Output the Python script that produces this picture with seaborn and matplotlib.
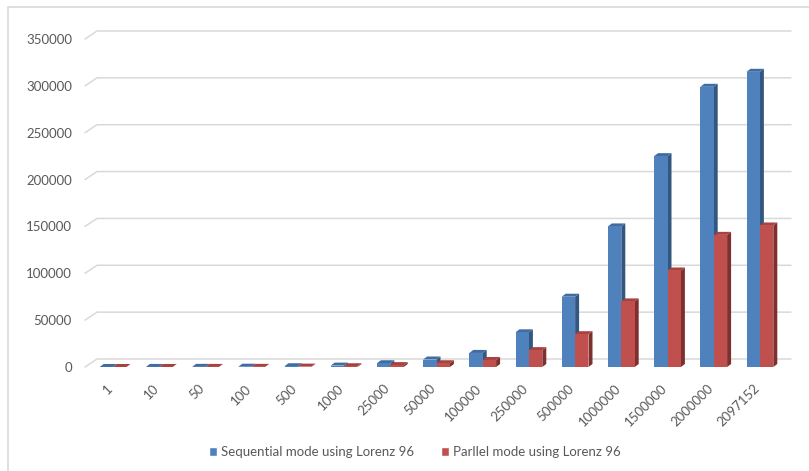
import matplotlib
matplotlib.use("Agg")
import matplotlib.pyplot as plt
import seaborn as sns
import pandas as pd
from matplotlib.patches import Polygon, Rectangle, Patch
from matplotlib.transforms import ScaledTranslation

# Problem sizes and run times for the two execution modes
categories = ["1", "10", "50", "100", "500", "1000", "25000", "50000", "100000",
              "250000", "500000", "1000000", "1500000", "2000000", "2097152"]
sequential = [30, 60, 150, 300, 800, 1500, 4000, 8000, 15000,
              37000, 75000, 150000, 225000, 299000, 315000]
parallel = [15, 30, 80, 150, 400, 800, 2000, 4000, 7500,
            18000, 35000, 70000, 103000, 141000, 151000]
series_names = ["Sequential mode using Lorenz 96", "Parllel mode using Lorenz 96"]
y_ticks = [0, 50000, 100000, 150000, 200000, 250000, 300000, 350000]

W, H = 809, 471
TEXT = "#595959"
GRID = "#D9D9D9"
front = ["#4F81BD", "#C0504D"]
top_col = ["#3F6CA3", "#A8423F"]
side_col = ["#345781", "#7F2F2D"]

sns.set_style("white")
plt.rcParams["font.family"] = ["Lato", "DejaVu Sans"]

fig = plt.figure(figsize=(W / 100, H / 100), dpi=100)
ax = fig.add_axes([90 / W, (H - 367) / H, (783 - 90) / W, (367 - 39) / H])
ax.patch.set_visible(False)

df = pd.DataFrame({
    "size": categories * 2,
    "time": sequential + parallel,
    "mode": [series_names[0]] * len(categories) + [series_names[1]] * len(categories),
})
sns.barplot(data=df, x="size", y="time", hue="mode", order=categories,
            hue_order=series_names, palette=front, width=0.58, saturation=1,
            linewidth=0, errorbar=None, legend=False, ax=ax, zorder=3)

ax.set_xlim(-0.5, len(categories) - 0.5)
ax.set_ylim(0, 350000)
ax.set_yticks(y_ticks)
ax.set_yticklabels([str(v) for v in y_ticks])
ax.set_xlabel("")
ax.set_ylabel("")
for s in ax.spines.values():
    s.set_visible(False)
ax.grid(False)
ax.tick_params(axis="y", length=0, pad=13, labelsize=9.5, labelcolor=TEXT)
ax.tick_params(axis="x", length=0, pad=11, labelsize=9.5, labelcolor=TEXT)
shift = ScaledTranslation(-7 / 100, 0, fig.dpi_scale_trans)
for lab in ax.get_xticklabels():
    lab.set_rotation(45)
    lab.set_ha("right")
    lab.set_va("top")
    lab.set_rotation_mode("anchor")
    lab.set_transform(lab.get_transform() + shift)

to_data = ax.transData.inverted().transform
to_disp = ax.transData.transform

# back-wall gridlines with the diagonal floor/wall stubs
DEPTH_X, DEPTH_Y = 12, 8
for v in y_ticks:
    yd = to_disp((0, v))[1]
    pts = to_data([(85, yd), (85 + DEPTH_X, yd + DEPTH_Y), (791, yd + DEPTH_Y)])
    ax.plot(pts[:, 0], pts[:, 1], color=GRID, lw=1.1, clip_on=False, zorder=1)

# extruded top and side faces of each bar
DX, DY = 4, 3
bars = [p for p in ax.patches if isinstance(p, Rectangle)]
n = len(categories)
for i, p in enumerate(bars[:2 * n]):
    k = i // n
    x0, w, h = p.get_x(), p.get_width(), p.get_height()
    X0, Y0 = to_disp((x0, 0))
    X1, Y1 = to_disp((x0 + w, h))
    side = to_data([(X1, Y0), (X1, Y1), (X1 + DX, Y1 + DY), (X1 + DX, Y0 + DY)])
    top = to_data([(X0, Y1), (X1, Y1), (X1 + DX, Y1 + DY), (X0 + DX, Y1 + DY)])
    ax.add_patch(Polygon(side, closed=True, facecolor=side_col[k], lw=0,
                         zorder=2.5, clip_on=False))
    ax.add_patch(Polygon(top, closed=True, facecolor=top_col[k], lw=0,
                         zorder=2.5, clip_on=False))

handles = [Patch(facecolor=front[0]), Patch(facecolor=front[1])]
fig.legend(handles, series_names, loc="center", bbox_to_anchor=(415 / W, 1 - 452 / H),
           ncol=2, frameon=False, fontsize=9.5, labelcolor=TEXT,
           handlelength=0.6, handleheight=0.6, handletextpad=0.3, columnspacing=2.0)

fig.add_artist(Rectangle((8 / W, -0.1), 1.2, 1 - 7 / H + 0.1, transform=fig.transFigure,
                         fill=False, edgecolor=GRID, lw=1.2))

fig.savefig("out.png", dpi=100)
